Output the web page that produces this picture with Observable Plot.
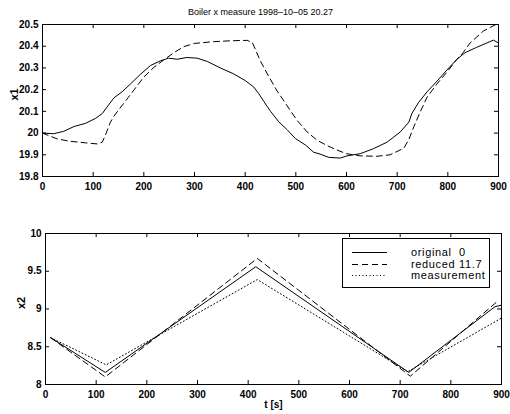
<!DOCTYPE html>
<html>
<head>
<meta charset="utf-8">
<script src="https://cdn.jsdelivr.net/npm/d3@7"></script>
<script src="https://cdn.jsdelivr.net/npm/@observablehq/plot@0.6"></script>
<style>
  body { margin: 0; background: #fff; font-family: "Liberation Sans", Arial, sans-serif; }
  #wrap { position: relative; width: 510px; height: 414px; overflow: hidden; background: #fff; }
  #wrap > svg { position: absolute; left: 0; }
  #title { position: absolute; top: 6px; left: 188px; font-size: 9px; line-height: 12px; color: #000; white-space: pre; }
  .ax text { font-weight: bold; }
  #legend { position: absolute; left: 342px; top: 238px; width: 146px; height: 48px; border: 1px solid #000; background: #fff; }
  .ltext { position: absolute; left: 68px; font-size: 11px; line-height: 11px; height: 11px; letter-spacing: 0.65px; white-space: pre; color: #000; }
  .lline { position: absolute; left: 9px; display: block; }
</style>
</head>
<body>
<div id="wrap">
  <div id="title"></div>
  <div id="legend"></div>
</div>
<script>
// ---- Text ----
const titleText = "Boiler x measure 1998\u201310\u201305 20.27";
const x1Label = "x1";
const x2Label = "x2";
const tLabel = "t [s]";
const legendLabels = ["original  0", "reduced 11.7", "measurement"];
const legendDashes = ["none", "6,4", "1,2.5"];

// ---- Tick values ----
const tTicks = [0, 100, 200, 300, 400, 500, 600, 700, 800, 900];
const x1Ticks = [19.8, 19.9, 20, 20.1, 20.2, 20.3, 20.4, 20.5];
const x2Ticks = [8, 8.5, 9, 9.5, 10];

// ---- Top panel: x1 ----
const t1Original = [0,22,42,62,85,105,118,129,141,157,174,193,213,233,249,266,285,305,325,351,377,400,417,427,437,450,466,483,499,519,535,548,565,588,601,627,653,680,706,723,729,742,759,779,798,818,834,857,877,890,900];
const x1Original = [20.0,19.997,20.008,20.03,20.045,20.068,20.09,20.125,20.162,20.19,20.227,20.27,20.311,20.333,20.345,20.34,20.348,20.345,20.33,20.30,20.273,20.242,20.212,20.181,20.145,20.1,20.053,20.015,19.975,19.945,19.912,19.903,19.888,19.885,19.895,19.905,19.928,19.958,20.005,20.05,20.09,20.14,20.19,20.24,20.29,20.34,20.37,20.395,20.415,20.428,20.415];
const t1Reduced = [0,29,55,85,108,118,124,134,141,160,180,200,220,239,259,279,300,338,371,404,414,420,430,446,463,483,502,522,542,562,581,600,627,660,686,713,723,733,746,759,778,798,818,830,844,870,895];
const x1Reduced = [20.0,19.973,19.962,19.955,19.95,19.958,19.99,20.05,20.078,20.136,20.197,20.258,20.303,20.336,20.37,20.398,20.413,20.421,20.425,20.427,20.417,20.386,20.332,20.263,20.194,20.125,20.06,20.006,19.967,19.942,19.922,19.905,19.895,19.893,19.9,19.93,19.97,20.03,20.1,20.165,20.225,20.28,20.34,20.37,20.415,20.47,20.5];

// ---- Bottom panel: x2 ----
const t2Original = [10, 118, 415, 717, 887, 900];
const x2Original = [8.62, 8.16, 9.56, 8.16, 9.03, 9.05];
const t2Reduced = [10, 118, 418, 720, 890];
const x2Reduced = [8.62, 8.10, 9.67, 8.11, 9.09];
const t2Measure = [10, 120, 418, 715, 900];
const x2Measure = [8.62, 8.26, 9.39, 8.17, 8.88];

const rows = (ts, vs) => ts.map((t, i) => ({t, v: vs[i]}));

const font = '"Liberation Sans", Arial, sans-serif';
const style = {background: "transparent", color: "black", fontFamily: font, fontSize: "10px", overflow: "visible"};
const fmt = d => String(d);

function panel({width, height, mL, mR, mT, mB, yDomain, yTicks, series, yLabel, yLabelDx, xLabel}) {
  const fw = width - mL - mR, fh = height - mT - mB;
  const marks = [
    Plot.frame({stroke: "black", strokeWidth: 1}),
    // inward ticks on all four sides
    Plot.tickX(tTicks, {x: d => d, insetTop: fh - 4, stroke: "black"}),
    Plot.tickX(tTicks, {x: d => d, insetBottom: fh - 4, stroke: "black"}),
    Plot.tickY(yTicks, {y: d => d, insetRight: fw - 4, stroke: "black"}),
    Plot.tickY(yTicks, {y: d => d, insetLeft: fw - 4, stroke: "black"}),
    Plot.axisX(tTicks, {tickSize: 0, tickPadding: 6, label: null, tickFormat: fmt, className: "ax"}),
    Plot.axisY(yTicks, {tickSize: 0, tickPadding: 4, label: null, tickFormat: fmt, className: "ax"}),
    ...series.map(s => Plot.line(s.data, {x: "t", y: "v", stroke: "black", strokeWidth: 1, strokeDasharray: s.dash, curve: "linear"})),
    Plot.text([yLabel], {text: d => d, frameAnchor: "left", dx: yLabelDx, rotate: -90, fontSize: 11, fontWeight: "bold"})
  ];
  if (xLabel) marks.push(Plot.text([xLabel], {text: d => d, frameAnchor: "bottom", dy: 23, fontSize: 10, fontWeight: "bold"}));
  return Plot.plot({
    width, height,
    marginLeft: mL, marginRight: mR, marginTop: mT, marginBottom: mB,
    style,
    x: {domain: [0, 900], label: null},
    y: {domain: yDomain, label: null},
    marks
  });
}

const topPlot = panel({
  width: 510, height: 200, mL: 42, mR: 12, mT: 24, mB: 24,
  yDomain: [19.8, 20.5], yTicks: x1Ticks, yLabel: x1Label, yLabelDx: -28,
  series: [
    {data: rows(t1Original, x1Original), dash: null},
    {data: rows(t1Reduced, x1Reduced), dash: "6,4"}
  ]
});
const botPlot = panel({
  width: 510, height: 214, mL: 45, mR: 9, mT: 33, mB: 30,
  yDomain: [8, 10], yTicks: x2Ticks, yLabel: x2Label, yLabelDx: -24, xLabel: tLabel,
  series: [
    {data: rows(t2Original, x2Original), dash: null},
    {data: rows(t2Reduced, x2Reduced), dash: "6,4"},
    {data: rows(t2Measure, x2Measure), dash: "1,2.5"}
  ]
});
topPlot.style.top = "0px";
botPlot.style.top = "200px";
const wrap = document.getElementById("wrap");
wrap.insertBefore(botPlot, wrap.firstChild);
wrap.insertBefore(topPlot, wrap.firstChild);

document.getElementById("title").textContent = titleText;

// legend
const legend = document.getElementById("legend");
const ns = "http://www.w3.org/2000/svg";
legendLabels.forEach((lab, i) => {
  const top = 8 + i * 11.5;
  const svg = document.createElementNS(ns, "svg");
  svg.setAttribute("width", "36");
  svg.setAttribute("height", "11");
  svg.setAttribute("class", "lline");
  svg.style.top = top + "px";
  const line = document.createElementNS(ns, "line");
  line.setAttribute("x1", "0"); line.setAttribute("x2", "35");
  line.setAttribute("y1", "5.5"); line.setAttribute("y2", "5.5");
  line.setAttribute("stroke", "black"); line.setAttribute("stroke-width", "1");
  if (legendDashes[i] !== "none") line.setAttribute("stroke-dasharray", legendDashes[i]);
  svg.appendChild(line);
  legend.appendChild(svg);
  const span = document.createElement("div");
  span.className = "ltext";
  span.style.top = top + "px";
  span.textContent = lab;
  legend.appendChild(span);
});
</script>
</body>
</html>
